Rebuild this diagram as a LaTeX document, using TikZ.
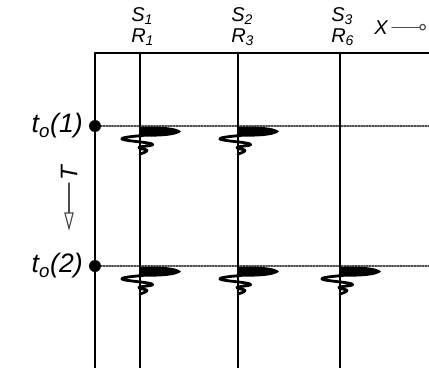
\documentclass[tikz,border=0pt]{standalone}
\usepackage{fontspec}
\setmainfont{Liberation Sans}
\usetikzlibrary{arrows.meta}

\begin{document}
\begin{tikzpicture}[x=0.75pt,y=-0.75pt,line cap=round,line join=round,
  trace/.style={line width=1.9pt},
  pickline/.style={densely dotted,line width=1.1pt,black!70},
  lbl/.style={font=\fontsize{15}{16}\selectfont\itshape,inner sep=0pt,anchor=base west},
  tlbl/.style={font=\fontsize{20}{22}\selectfont\itshape,inner sep=0pt,anchor=east},
  pics/wavelet/.style={code={
    \fill (-1,1) .. controls (14,0) and (37,0.5) .. (41,5.5) .. controls (37,10.5) and (14,11) .. (-1,10.5) -- cycle;
    \draw[line width=2.1pt] plot[smooth,tension=0.8] coordinates {(3,9.5) (-18,13) (12,18) (-1,21.5) (7,24.5) (0,28)};
  }}]
\useasboundingbox (0,0) rectangle (429,368);
\coordinate (tl) at (95,53);
\coordinate (tr) at (429,53);
\coordinate (bl) at (95,368);
\coordinate (a) at (140,53);
\coordinate (b) at (238,53);
\coordinate (c) at (340,53);
\coordinate (t1) at (95,126);
\coordinate (t2) at (95,266);
\coordinate (t1e) at (429,126);
\coordinate (t2e) at (429,266);
% time picks
\draw[pickline] (t1) -- (t1e);
\draw[pickline] (t2) -- (t2e);
% traces
\draw[trace] (a) -- (a |- bl);
\draw[trace] (b) -- (b |- bl);
\draw[trace] (c) -- (c |- bl);
\pic at (a |- t1) {wavelet};
\pic at (b |- t1) {wavelet};
\pic at (a |- t2) {wavelet};
\pic at (b |- t2) {wavelet};
\pic at (c |- t2) {wavelet};
% frame
\draw[line width=2.2pt,line cap=butt] (tr) -- (tl) -- (bl);
\fill (t1) circle (6);
\fill (t2) circle (6);
\node[tlbl] (t1l) at ([xshift=-9pt]t1) {t\textsubscript{o}(1)};
\node[tlbl] (t2l) at ([xshift=-9pt]t2) {t\textsubscript{o}(2)};
% source / receiver labels
\node[lbl] (s1) at (131,21) {S\textsubscript{1}};
\node[lbl] (r1) at (131,42) {R\textsubscript{1}};
\node[lbl] (s2) at (231,21) {S\textsubscript{2}};
\node[lbl] (r3) at (231,42) {R\textsubscript{3}};
\node[lbl] (s3) at (331,21) {S\textsubscript{3}};
\node[lbl] (r6) at (331,42) {R\textsubscript{6}};
\node[lbl] (xl) at (374,34) {X};
\coordinate (xe) at (426,0);
\draw[line width=0.9pt,black!70,-{Circle[open,length=5pt]}] ([xshift=3pt]xl.east) -- (xl.east -| xe);
% time axis
\node[font=\fontsize{18}{20}\selectfont\itshape,rotate=90,inner sep=0pt] (tt) at (69,173) {T};
\coordinate (ta) at (69,183);
\coordinate (tb) at (69,231);
\draw[line width=0.9pt,black!70,-{Triangle[open,length=14pt,width=7pt]}] (ta) -- (tb);
\end{tikzpicture}
\end{document}
